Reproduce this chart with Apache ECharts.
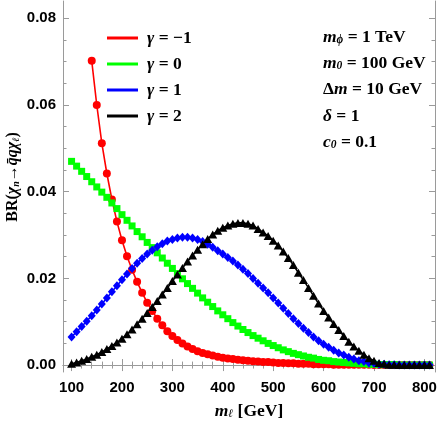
<!DOCTYPE html>
<html>
<head>
<meta charset="utf-8">
<script src="https://cdn.jsdelivr.net/npm/echarts@6/dist/echarts.min.js"></script>
<style>
  html, body { margin: 0; padding: 0; background: #fff; }
  #main { width: 443px; height: 423px; }
</style>
</head>
<body>
<div id="main"></div>
<script>
// m_l values (GeV)
var mAll = [100,110,120,130,140,150,160,170,180,190,200,210,220,230,240,250,260,270,280,290,
            300,310,320,330,340,350,360,370,380,390,400,410,420,430,440,450,460,470,480,490,
            500,510,520,530,540,550,560,570,580,590,600,610,620,630,640,650,660,670,680,690,
            700,710,720,730,740,750,760,770,780,790,800,810];
var mRed = [140,150,160,170,180,190,200,210,220,230,240,250,260,270,280,290,
            300,310,320,330,340,350,360,370,380,390,400,410,420,430,440,450,460,470,480,490,
            500,510,520,530,540,550,560,570,580,590,600,610,620,630,640,650,660,670,680,690,
            700,710,720,730,740,750,760,770,780,790,800,810];

// gamma = -1
var brRed = [.0702,.0600,.0512,.0442,.0382,.0331,.0288,.0251,.0220,.0192,
             .0167,.0144,.0125,.0107,.0092,.0078,.0067,.0058,.0050,.0043,
             .0037,.0032,.0028,.0025,.0022,.0019,.0017,.0015,.0014,.0012,
             .0011,.0010,.0009,.0008,.0007,.0007,.0006,.0005,.0005,.0004,
             .0004,.0003,.0003,.0003,.0002,.0002,.0002,.0002,.0001,.0001,
             .0001,.0001,.0001,.0001,.0001,.0001,0,0,0,0,
             0,0,0,0,0,0,0,0];
// gamma = 0
var brGreen = [.0470,.0459,.0447,.0435,.0423,.0411,.0399,.0387,.0374,.0361,
               .0347,.0334,.0321,.0308,.0296,.0283,.0271,.0259,.0247,.0235,
               .0223,.0211,.0199,.0188,.0177,.0166,.0155,.0145,.0135,.0125,
               .0116,.0107,.0098,.0090,.0082,.0075,.0068,.0062,.0056,.0050,
               .0045,.0040,.0035,.0031,.0027,.0024,.0021,.0018,.0016,.0013,
               .0011,.0010,.0008,.0007,.0006,.0005,.0004,.0003,.0003,.0002,
               .0002,.0001,.0001,.0001,.0001,0,0,0,0,0,0,0];
// gamma = 1
var brBlue = [.0065,.0077,.0089,.0101,.0114,.0127,.0141,.0155,.0169,.0183,
              .0197,.0210,.0223,.0235,.0246,.0256,.0265,.0273,.0280,.0286,
              .0290,.0293,.0295,.0295,.0293,.0290,.0285,.0279,.0272,.0264,
              .0256,.0248,.0240,.0231,.0221,.0211,.0200,.0189,.0178,.0167,
              .0155,.0143,.0131,.0119,.0107,.0096,.0085,.0075,.0065,.0056,
              .0048,.0041,.0034,.0028,.0023,.0018,.0014,.0010,.0008,.0005,
              .0004,.0002,.0002,.0001,.0001,0,0,0,0,0,0,0];
// gamma = 2
var brBlack = [.0003,.0006,.0010,.0014,.0019,.0024,.0030,.0037,.0044,.0052,
               .0061,.0071,.0082,.0094,.0107,.0120,.0134,.0148,.0163,.0178,
               .0194,.0209,.0224,.0239,.0253,.0266,.0279,.0291,.0301,.0310,
               .0317,.0322,.0326,.0328,.0328,.0326,.0322,.0314,.0306,.0298,
               .0287,.0276,.0262,.0247,.0231,.0213,.0196,.0178,.0160,.0142,
               .0125,.0110,.0095,.0081,.0067,.0054,.0043,.0033,.0024,.0016,
               .0010,.0005,.0003,.0001,.0001,0,0,0,0,0,0,0];

var xMajor = [100,200,300,400,500,600,700,800];
var xMinor = [120,140,160,180,220,240,260,280,320,340,360,380,420,440,460,480,
              520,540,560,580,620,640,660,680,720,740,760,780];
var yMajor = [0,0.02,0.04,0.06,0.08];
var yMinor = [0.005,0.01,0.015,0.025,0.03,0.035,0.045,0.05,0.055,0.065,0.07,0.075];

var frameColor = '#9a9a9a';
var serif = 'Liberation Serif';
var sans = 'Liberation Sans';

function pairs(xs, ys) {
    return xs.map(function (x, i) { return [x, ys[i]]; });
}

function xAx(pos, vals, len, labels, line) {
    return {
        type: 'value', position: pos, min: 83, max: 821,
        axisLine: { show: line, lineStyle: { color: frameColor, width: 1 } },
        axisTick: { show: true, inside: true, length: len, customValues: vals,
                    lineStyle: { color: frameColor } },
        axisLabel: { show: labels, customValues: vals, margin: 8,
                     fontFamily: sans, fontWeight: 'bold', fontSize: 15, color: '#000' },
        splitLine: { show: false }
    };
}
function yAx(pos, vals, len, labels, line) {
    return {
        type: 'value', position: pos, min: -0.0016, max: 0.084,
        axisLine: { show: line, lineStyle: { color: frameColor, width: 1 } },
        axisTick: { show: true, inside: true, length: len, customValues: vals,
                    lineStyle: { color: frameColor } },
        axisLabel: { show: labels, customValues: vals, margin: 7,
                     fontFamily: sans, fontWeight: 'bold', fontSize: 15, color: '#000',
                     formatter: function (v) { return v.toFixed(2); } },
        splitLine: { show: false }
    };
}

var myChart = echarts.init(document.getElementById('main'));

var legendRich = {
    g: { fontFamily: serif, fontStyle: 'italic', fontWeight: 'bold', fontSize: 17.5, color: '#000', lineHeight: 18 },
    b: { fontFamily: serif, fontWeight: 'bold', fontSize: 17.5, color: '#000', lineHeight: 18 }
};
var annRich = {
    mi: { fontFamily: serif, fontStyle: 'italic', fontWeight: 'bold', fontSize: 17.5, fill: '#000' },
    b: { fontFamily: serif, fontWeight: 'bold', fontSize: 17.5, fill: '#000' },
    sub: { fontFamily: serif, fontStyle: 'italic', fontWeight: 'bold', fontSize: 11.5, fill: '#000',
           verticalAlign: 'bottom', padding: [7, 0, 0, 0] }
};
function ann(y, txt) {
    return { type: 'text', x: 323, y: y,
             style: { text: txt, rich: annRich, fill: '#000', verticalAlign: 'middle' } };
}

var option = {
    animation: false,
    grid: { left: 63, right: 8, top: 1, bottom: 51 },
    xAxis: [
        xAx('bottom', xMajor, 6, true, true),
        xAx('bottom', xMinor, 3.5, false, false),
        xAx('top', xMajor, 6, false, true),
        xAx('top', xMinor, 3.5, false, false)
    ],
    yAxis: [
        yAx('left', yMajor, 6, true, true),
        yAx('left', yMinor, 3.5, false, false),
        yAx('right', yMajor, 6, false, true),
        yAx('right', yMinor, 3.5, false, false)
    ],
    legend: {
        orient: 'vertical', left: 102, top: 24, itemWidth: 31, itemHeight: 3, itemGap: 8,
        icon: 'rect', selectedMode: false,
        data: ['γ = −1', 'γ = 0', 'γ = 1', 'γ = 2'],
        formatter: function (name) { return '{g|γ}{b|' + name.slice(1) + '}'; },
        textStyle: { rich: legendRich, padding: [0, 0, 0, 4] }
    },
    series: [
        { name: 'γ = −1', type: 'line', data: pairs(mRed, brRed), color: '#ff0000',
          symbol: 'circle', symbolSize: 8, showAllSymbol: true, lineStyle: { width: 1.6 } },
        { name: 'γ = 0', type: 'line', data: pairs(mAll, brGreen), color: '#00ff00',
          symbol: 'rect', symbolSize: 7, showAllSymbol: true, lineStyle: { width: 1.6 } },
        { name: 'γ = 1', type: 'line', data: pairs(mAll, brBlue), color: '#0000ff',
          symbol: 'diamond', symbolSize: [8, 9], showAllSymbol: true, lineStyle: { width: 1.6 } },
        { name: 'γ = 2', type: 'line', data: pairs(mAll, brBlack), color: '#000000',
          symbol: 'triangle', symbolSize: [9, 8], showAllSymbol: true, lineStyle: { width: 1.6 } }
    ],
    graphic: [
        ann(37, '{mi|m}{sub|ϕ}{b| = 1 TeV}'),
        ann(63, '{mi|m}{sub|0}{b| = 100 GeV}'),
        ann(89, '{b|Δ}{mi|m}{b| = 10 GeV}'),
        ann(116, '{mi|δ}{b| = 1}'),
        ann(142, '{mi|c}{sub|0}{b| = 0.1}'),
        { type: 'text', x: 249, y: 411,
          style: { text: '{mi|m}{sub|ℓ}{b| [GeV]}', rich: annRich, align: 'center', verticalAlign: 'middle' } },
        { type: 'text', x: 13, y: 177, rotation: Math.PI / 2,
          style: { text: '{r|BR(}{g|χ}{s|n}{r|→}{g|q̄q}{g|χ}{s|ℓ}{r|)}',
                   align: 'center', verticalAlign: 'middle',
                   rich: {
                       r: { fontFamily: serif, fontWeight: 'bold', fontSize: 16, fill: '#000' },
                       g: { fontFamily: serif, fontStyle: 'italic', fontWeight: 'bold', fontSize: 16, fill: '#000' },
                       s: { fontFamily: serif, fontStyle: 'italic', fontWeight: 'bold', fontSize: 10, fill: '#000',
                            verticalAlign: 'bottom', padding: [6, 0, 0, 0] }
                   } } }
    ]
};
myChart.setOption(option);
</script>
</body>
</html>
